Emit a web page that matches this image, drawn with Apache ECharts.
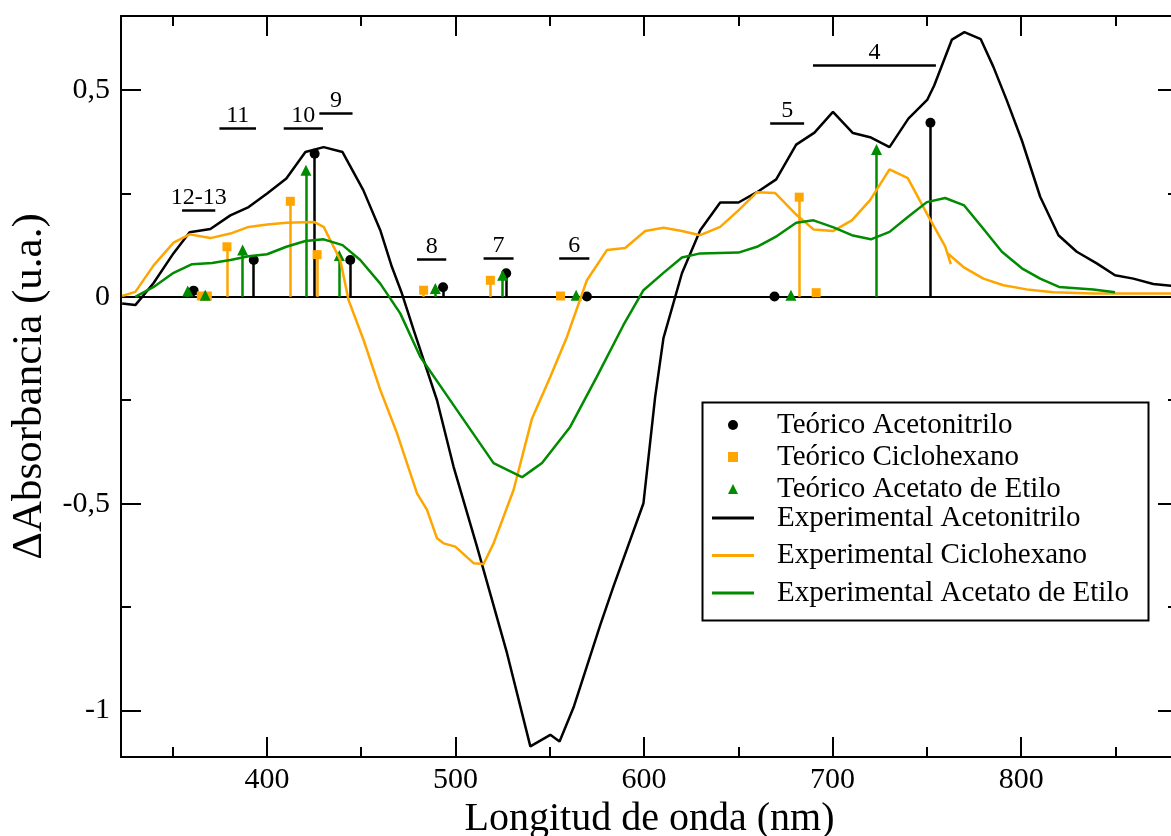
<!DOCTYPE html>
<html>
<head>
<meta charset="utf-8">
<script src="https://cdn.jsdelivr.net/npm/echarts@6/dist/echarts.min.js"></script>
<style>
html,body{margin:0;padding:0;background:#fff}
#chart{width:1171px;height:836px}
</style>
</head>
<body>
<div id="chart"></div>
<script>
const SERIF = "'Liberation Serif','Times New Roman',serif";
const BLACK = '#000000', ORANGE = '#FFA500', GREEN = '#008B00';

// Axis ranges: wavelength (nm) and ΔAbsorbancia
const xRange = [322.6, 883.2];
const yRange = [-1.1126, 0.679];

// Theoretical transitions (stick spectra)
const theoAcnX = [361.1, 393.0, 425.3, 444.2, 493.4, 526.9, 569.7, 669.2, 751.9];
const theoAcnY = [0.015, 0.089, 0.346, 0.089, 0.023, 0.057, 0.001, 0.001, 0.421];
const theoCycX = [365.2, 368.4, 378.8, 412.4, 426.6, 483.1, 518.5, 555.7, 682.3, 691.3];
const theoCycY = [0.002, 0.002, 0.121, 0.231, 0.102, 0.016, 0.040, 0.002, 0.241, 0.010];
const theoEtaX = [358.0, 367.3, 387.1, 420.7, 438.4, 489.3, 525.0, 564.0, 677.9, 723.3];
const theoEtaY = [0.014, 0.004, 0.113, 0.306, 0.100, 0.020, 0.052, 0.004, 0.004, 0.356];

// Experimental difference spectra
const expAcnX = [323.2, 330.2, 339.8, 350.4, 359.0, 370.0, 380.6, 390.3, 400.1, 410.3, 420.4, 430.1, 440.1,
  451.1, 460.1, 466.3, 471.6, 477.8, 490.2, 499.0, 511.4, 527.3, 539.7, 550.3, 555.2, 562.6, 576.8, 583.8,
  599.7, 605.9, 610.3, 620.1, 629.8, 640.4, 650.1, 659.9, 670.1, 680.7, 690.4, 700.2, 710.8, 719.9, 730.2,
  740.2, 750.3, 753.9, 763.3, 769.9, 778.6, 785.3, 792.4, 800.4, 810.1, 819.8, 829.5, 840.1, 849.8, 859.5,
  870.1, 879.5, 883.0];
const expAcnY = [-0.016, -0.020, 0.033, 0.105, 0.156, 0.164, 0.197, 0.217, 0.250, 0.286, 0.350, 0.362, 0.350,
  0.258, 0.161, 0.072, 0.008, -0.080, -0.250, -0.411, -0.604, -0.861, -1.087, -1.059, -1.075, -0.993, -0.793, -0.700,
  -0.499, -0.242, -0.100, 0.057, 0.161, 0.228, 0.228, 0.253, 0.284, 0.368, 0.397, 0.447, 0.396, 0.386, 0.362,
  0.431, 0.477, 0.511, 0.622, 0.640, 0.623, 0.556, 0.475, 0.378, 0.242, 0.149, 0.109, 0.081, 0.052, 0.044,
  0.031, 0.027, 0.026];

const expCycX = [323.2, 330.2, 339.9, 350.5, 359.0, 370.0, 380.6, 390.3, 400.1, 410.3, 424.8, 430.1, 438.9,
  443.3, 451.3, 460.1, 469.0, 479.6, 484.9, 490.2, 493.7, 499.9, 509.6, 514.9, 520.2, 530.8, 540.6, 550.3,
  559.1, 569.7, 580.3, 590.0, 600.6, 610.3, 620.1, 629.8, 640.4, 650.1, 659.9, 669.6, 680.2, 689.9, 700.2,
  710.2, 719.9, 730.2, 739.9, 750.0, 759.7, 762.7, 760.8, 769.4, 780.0, 790.6, 803.0, 817.1, 838.3, 883.0];
const expCycY = [0.002, 0.012, 0.076, 0.131, 0.151, 0.142, 0.153, 0.169, 0.175, 0.179, 0.181, 0.169, 0.089,
  -0.008, -0.105, -0.225, -0.330, -0.475, -0.515, -0.584, -0.596, -0.604, -0.644, -0.646, -0.596, -0.467, -0.294, -0.193,
  -0.097, 0.040, 0.113, 0.118, 0.159, 0.167, 0.159, 0.149, 0.169, 0.209, 0.253, 0.251, 0.201, 0.163, 0.159,
  0.185, 0.234, 0.308, 0.287, 0.201, 0.122, 0.079, 0.106, 0.072, 0.044, 0.028, 0.018, 0.011, 0.008, 0.008];

const expEtaX = [330.2, 339.9, 350.5, 360.3, 370.9, 380.6, 390.3, 400.1, 410.3, 420.4, 430.1, 440.1, 449.5,
  460.1, 470.7, 481.3, 500.8, 520.2, 535.3, 540.6, 545.9, 560.9, 575.0, 589.1, 599.7, 610.3, 620.1, 629.8,
  650.1, 659.9, 670.5, 680.7, 689.9, 700.5, 710.2, 720.3, 730.2, 739.9, 750.0, 759.7, 769.8, 779.2, 789.8,
  800.4, 810.1, 820.1, 838.3, 849.8];
const expEtaY = [0.000, 0.024, 0.058, 0.079, 0.082, 0.089, 0.098, 0.103, 0.121, 0.135, 0.139, 0.125, 0.089,
  0.032, -0.040, -0.145, -0.274, -0.402, -0.436, -0.419, -0.402, -0.314, -0.193, -0.068, 0.016, 0.058, 0.095, 0.105,
  0.107, 0.121, 0.147, 0.179, 0.185, 0.168, 0.149, 0.139, 0.157, 0.193, 0.229, 0.239, 0.221, 0.169, 0.109,
  0.069, 0.044, 0.024, 0.018, 0.011];

// Band assignments: label, wavelength span (nm) and height of the bracket line
const bandNames = ['12-13', '11', '10', '9', '8', '7', '6', '5', '4'];
const bandStart = [355.0, 374.8, 408.9, 427.8, 479.6, 514.9, 555.0, 666.9, 689.6];
const bandEnd   = [372.6, 394.2, 429.7, 445.4, 495.1, 530.8, 571.0, 684.9, 754.8];
const bandLevel = [0.209, 0.407, 0.407, 0.443, 0.090, 0.093, 0.093, 0.419, 0.560];

const zip = (xs, ys) => xs.map((x, i) => [x, ys[i]]);
const stems = (xs, ys) => xs.map((x, i) => [{ coord: [x, 0] }, { coord: [x, ys[i]] }]);

function theoSeries(name, xs, ys, color, symbol, size) {
  return {
    name, type: 'scatter', data: zip(xs, ys), symbol, symbolSize: size,
    itemStyle: { color, opacity: 1 }, z: 3, emphasis: { disabled: true },
    markLine: {
      silent: true, animation: false, z: 2, symbol: ['none', 'none'],
      lineStyle: { color, width: 2.5, type: 'solid', opacity: 1 }, label: { show: false },
      emphasis: { disabled: true }, data: stems(xs, ys)
    }
  };
}

function expSeries(name, xs, ys, color, extra) {
  return Object.assign({
    name, type: 'line', data: zip(xs, ys), symbol: 'none', showSymbol: false,
    lineStyle: { color, width: 2.5 }, itemStyle: { color }, z: 4,
    emphasis: { disabled: true }
  }, extra || {});
}

const bandLines = bandNames.map((n, i) => [
  { name: n, coord: [bandStart[i], bandLevel[i]] },
  { coord: [bandEnd[i], bandLevel[i]] }
]);

const tickCommon = {
  axisLine: { show: true, onZero: false, lineStyle: { color: BLACK, width: 2 } },
  axisTick: { show: true, inside: true, length: 20, lineStyle: { color: BLACK, width: 2 } },
  minorTick: { show: true, splitNumber: 2, length: 10, lineStyle: { color: BLACK, width: 2 } },
  splitLine: { show: false }, minorSplitLine: { show: false }
};

const legendText = { fontFamily: SERIF, fontSize: 29, color: BLACK, lineHeight: 32 };

const chart = echarts.init(document.getElementById('chart'), null, { renderer: 'canvas' });
chart.setOption({
  animation: false,
  backgroundColor: '#ffffff',
  grid: { left: 121, top: 16, width: 1057, height: 741, containLabel: false, outerBoundsMode: 'none' },
  xAxis: [
    Object.assign({
      type: 'value', position: 'bottom', min: xRange[0], max: xRange[1], splitNumber: 5,
      axisLabel: { show: true, fontFamily: SERIF, fontSize: 30, color: BLACK, margin: 8,
        showMinLabel: false, showMaxLabel: false },
      name: 'Longitud de onda (nm)', nameLocation: 'middle', nameGap: 37,
      nameTextStyle: { fontFamily: SERIF, fontSize: 40, color: BLACK }
    }, tickCommon),
    Object.assign({
      type: 'value', position: 'top', min: xRange[0], max: xRange[1], splitNumber: 5,
      axisLabel: { show: false }
    }, tickCommon)
  ],
  yAxis: [
    Object.assign({
      type: 'value', position: 'left', min: yRange[0], max: yRange[1], splitNumber: 3,
      axisLabel: { show: true, fontFamily: SERIF, fontSize: 30, color: BLACK, margin: 11,
        showMinLabel: false, showMaxLabel: false,
        formatter: v => String(v).replace('.', ',') },
      name: 'ΔAbsorbancia (u.a.)', nameLocation: 'middle', nameGap: 66,
      nameTextStyle: { fontFamily: SERIF, fontSize: 43, color: BLACK }
    }, tickCommon),
    Object.assign({
      type: 'value', position: 'right', min: yRange[0], max: yRange[1], splitNumber: 3,
      axisLabel: { show: false }
    }, tickCommon)
  ],
  legend: [
    {
      data: ['Teórico Acetonitrilo', 'Teórico Ciclohexano', 'Teórico Acetato de Etilo'],
      orient: 'vertical', left: 728, top: 409, padding: 0, itemGap: 0,
      itemWidth: 10, itemHeight: 10, selectedMode: false,
      textStyle: Object.assign({ padding: [0, 0, 0, 34] }, legendText)
    },
    {
      data: ['Experimental Acetonitrilo', 'Experimental Ciclohexano', 'Experimental Acetato de Etilo'],
      orient: 'vertical', left: 712, top: 502, padding: 0, itemGap: 5.5,
      icon: 'rect', itemWidth: 42, itemHeight: 3, selectedMode: false,
      textStyle: Object.assign({ padding: [0, 0, 0, 18] }, legendText)
    }
  ],
  graphic: [{
    type: 'rect', left: 700, top: 400, z: 10, silent: true,
    shape: { width: 446, height: 218 },
    style: { fill: 'none', stroke: BLACK, lineWidth: 2 }
  }],
  series: [
    theoSeries('Teórico Acetonitrilo', theoAcnX, theoAcnY, BLACK, 'circle', 10),
    theoSeries('Teórico Ciclohexano', theoCycX, theoCycY, ORANGE, 'rect', 9),
    theoSeries('Teórico Acetato de Etilo', theoEtaX, theoEtaY, GREEN, 'triangle', 11),
    expSeries('Experimental Acetonitrilo', expAcnX, expAcnY, BLACK, {
      markLine: {
        silent: true, animation: false, z: 1, symbol: ['none', 'none'],
        lineStyle: { color: BLACK, width: 2.5, type: 'solid' },
        emphasis: { disabled: true },
        label: { show: true, position: 'middle', formatter: '{b}', distance: 1,
          fontFamily: SERIF, fontSize: 24, color: BLACK },
        data: [{ yAxis: 0, lineStyle: { width: 2 }, label: { show: false } }].concat(bandLines)
      }
    }),
    expSeries('Experimental Ciclohexano', expCycX, expCycY, ORANGE),
    expSeries('Experimental Acetato de Etilo', expEtaX, expEtaY, GREEN)
  ]
});
</script>
</body>
</html>
